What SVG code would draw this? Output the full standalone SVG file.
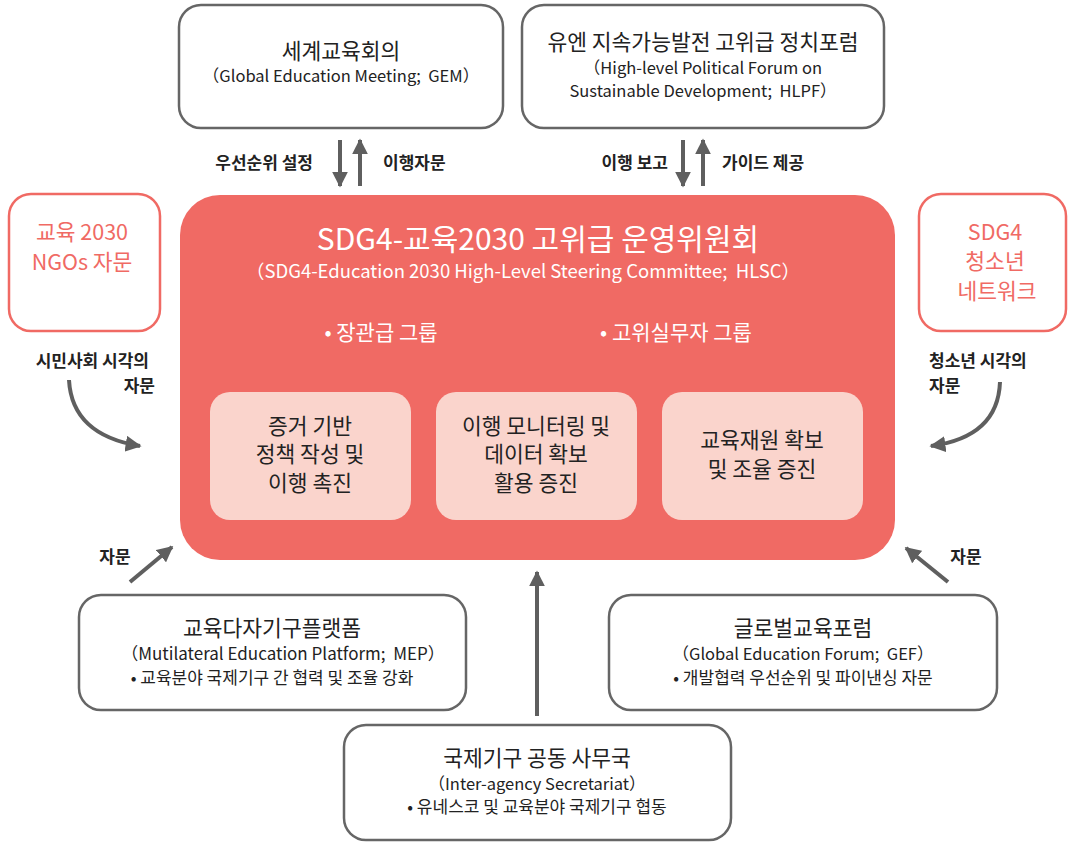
<svg xmlns="http://www.w3.org/2000/svg" width="1073" height="842" viewBox="0 0 1073 842">
<defs>
<style>
text{font-family:"Noto Sans CJK KR","Noto Sans",sans-serif;text-anchor:middle;fill:#222}
.box{fill:#fff;stroke:#666;stroke-width:2.5}
.pbox{fill:#fff;stroke:#F06A64;stroke-width:2.5}
.t{font-size:21.5px}
.s{font-size:16.5px}
.b{font-size:17px}
.lab{font-size:17px;font-weight:bold}
.red{fill:#F06A64;font-size:21.5px}
.w{fill:#fff}
.inner{fill:#FAD4CC}
.in{font-size:21.5px}
.con{stroke:#5f5f5f;stroke-width:4;fill:none}
</style>
<marker id="ah" viewBox="0 0 10 10" refX="9" refY="5" markerWidth="4" markerHeight="4" orient="auto" markerUnits="strokeWidth">
<path d="M0,0 L10,5 L0,10 z" fill="#5f5f5f"/>
</marker>
</defs>
<rect width="1073" height="842" fill="#fff"/>

<g id="gem">
<rect class="box" x="179" y="5" width="324" height="123" rx="22"/>
<text class="t" x="341" y="59">세계교육회의</text>
<text class="s" x="341" y="82">（Global Education Meeting;&#160; GEM）</text>
</g>

<g id="hlpf">
<rect class="box" x="522" y="5" width="362" height="123" rx="22"/>
<text class="t" x="703" y="50">유엔 지속가능발전 고위급 정치포럼</text>
<text class="s" x="703" y="74">（High-level Political Forum on</text>
<text class="s" x="703" y="97">Sustainable Development;&#160; HLPF）</text>
</g>

<g id="hlsc">
<rect x="180" y="195" width="715" height="365" rx="40" fill="#F06A64"/>
<text class="w" x="538" y="250" style="font-size:30px">SDG4-교육2030 고위급 운영위원회</text>
<text class="w" x="523" y="278" style="font-size:18.5px">（SDG4-Education 2030 High-Level Steering Committee;&#160; HLSC）</text>
<text class="w" x="381" y="340" style="font-size:21px">• 장관급 그룹</text>
<text class="w" x="676" y="340" style="font-size:21px">• 고위실무자 그룹</text>
</g>

<g id="inner1">
<rect class="inner" x="210" y="392" width="201" height="128" rx="20"/>
<text class="in" x="310" y="434">증거 기반</text>
<text class="in" x="310" y="462">정책 작성 및</text>
<text class="in" x="310" y="491">이행 촉진</text>
</g>
<g id="inner2">
<rect class="inner" x="436" y="392" width="201" height="128" rx="20"/>
<text class="in" x="536" y="434">이행 모니터링 및</text>
<text class="in" x="536" y="462">데이터 확보</text>
<text class="in" x="536" y="491">활용 증진</text>
</g>
<g id="inner3">
<rect class="inner" x="662" y="392" width="201" height="128" rx="20"/>
<text class="in" x="762" y="448">교육재원 확보</text>
<text class="in" x="762" y="477">및 조율 증진</text>
</g>

<g id="ngo">
<rect class="pbox" x="9" y="194" width="151" height="137" rx="22"/>
<text class="red" x="82" y="240">교육 2030</text>
<text class="red" x="82" y="270">NGOs 자문</text>
</g>

<g id="youth">
<rect class="pbox" x="919" y="194" width="147" height="137" rx="22"/>
<text class="red" x="995" y="240">SDG4</text>
<text class="red" x="995" y="269">청소년</text>
<text class="red" x="997" y="299">네트워크</text>
</g>

<g id="mep">
<rect class="box" x="79" y="595" width="387" height="115" rx="22"/>
<text class="t" x="272" y="636">교육다자기구플랫폼</text>
<text class="s" x="283" y="660" style="font-size:17px">（Mutilateral Education Platform;&#160; MEP）</text>
<text class="b" x="272" y="684">• 교육분야 국제기구 간 협력 및 조율 강화</text>
</g>

<g id="gef">
<rect class="box" x="609" y="595" width="388" height="115" rx="22"/>
<text class="t" x="803" y="636">글로벌교육포럼</text>
<text class="s" x="803" y="660">（Global Education Forum;&#160; GEF）</text>
<text class="b" x="803" y="684">• 개발협력 우선순위 및 파이낸싱 자문</text>
</g>

<g id="secretariat">
<rect class="box" x="344" y="725" width="387" height="115" rx="22"/>
<text class="t" x="537" y="766">국제기구 공동 사무국</text>
<text class="s" x="537" y="790">（Inter-agency Secretariat）</text>
<text class="b" x="537" y="813">• 유네스코 및 교육분야 국제기구 협동</text>
</g>

<g id="connectors">
<line class="con" x1="340" y1="140" x2="340" y2="186" marker-end="url(#ah)"/>
<line class="con" x1="360" y1="186" x2="360" y2="140" marker-end="url(#ah)"/>
<line class="con" x1="683" y1="140" x2="683" y2="186" marker-end="url(#ah)"/>
<line class="con" x1="703" y1="186" x2="703" y2="140" marker-end="url(#ah)"/>
<path class="con" d="M69,380 Q72,435 140,446" marker-end="url(#ah)"/>
<path class="con" d="M1000,382 Q998,437 931,446" marker-end="url(#ah)"/>
<line class="con" x1="130" y1="582" x2="172" y2="547" marker-end="url(#ah)"/>
<line class="con" x1="948" y1="582" x2="906" y2="548" marker-end="url(#ah)"/>
<line class="con" x1="537" y1="716" x2="537" y2="572" marker-end="url(#ah)"/>
<text class="lab" x="313" y="169" style="text-anchor:end">우선순위 설정</text>
<text class="lab" x="383" y="169" style="text-anchor:start">이행자문</text>
<text class="lab" x="668" y="169" style="text-anchor:end">이행 보고</text>
<text class="lab" x="722" y="169" style="text-anchor:start">가이드 제공</text>
<text class="lab" x="149" y="367" style="text-anchor:end">시민사회 시각의</text>
<text class="lab" x="155" y="392" style="text-anchor:end">자문</text>
<text class="lab" x="929" y="367" style="text-anchor:start">청소년 시각의</text>
<text class="lab" x="929" y="392" style="text-anchor:start">자문</text>
<text class="lab" x="115" y="563">자문</text>
<text class="lab" x="966" y="563">자문</text>
</g>
</svg>
